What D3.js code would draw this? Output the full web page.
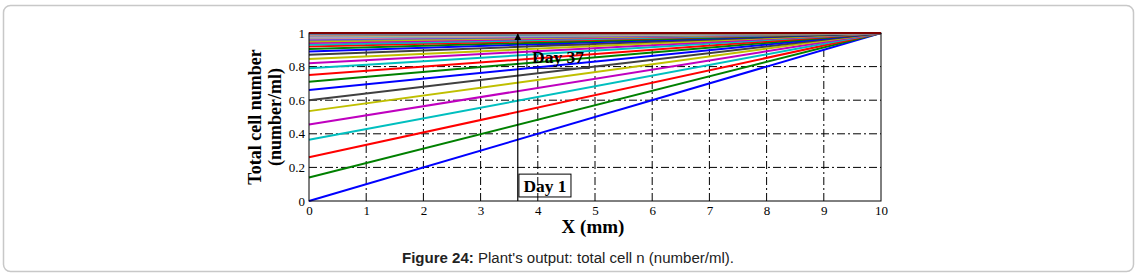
<!DOCTYPE html>
<html>
<head>
<meta charset="utf-8">
<script src="https://cdn.jsdelivr.net/npm/d3@7"></script>
<style>
  body { margin: 0; background: #fff; }
  svg { display: block; }
</style>
</head>
<body>
<svg id="chart" width="1139" height="278"></svg>
<script>
// starting value at x = 0 for each day (1..37), every line reaches 1 at x = 10
let startValues = [0, 0.14, 0.26, 0.365, 0.455, 0.535, 0.60, 0.66, 0.71, 0.75,
    0.79, 0.82, 0.845, 0.87, 0.89, 0.905, 0.92, 0.93, 0.94, 0.95,
    0.957, 0.963, 0.968, 0.973, 0.977, 0.98, 0.983, 0.986, 0.988, 0.99,
    0.992, 0.993, 0.995, 0.996, 0.997, 0.998, 1.0];
let xEnds = [0, 10];
let lineColors = ["#0000ff", "#008000", "#ff0000", "#00bfbf", "#bf00bf", "#bfbf00", "#404040",
    "#0000ff", "#008000", "#ff0000", "#00bfbf", "#bf00bf", "#bfbf00", "#404040",
    "#0000ff", "#008000", "#ff0000", "#00bfbf", "#bf00bf", "#bfbf00", "#808080",
    "#4040ff", "#ff8080", "#40c0c0", "#e080e0", "#c0c060", "#a0a0a0",
    "#2060ff", "#40a040", "#ff6060", "#80c0c0", "#d0a0d0", "#b0b000", "#606060",
    "#4080ff", "#808080", "#ff0000"];
let xTicks = [0, 1, 2, 3, 4, 5, 6, 7, 8, 9, 10];
let yTicks = [0, 0.2, 0.4, 0.6, 0.8, 1];
let yTickLabels = ["0", "0.2", "0.4", "0.6", "0.8", "1"];
let arrowX = 3.65;

let svg = d3.select("#chart");
let serif = "'Liberation Serif', 'Times New Roman', serif";

// rounded frame around the figure
svg.append("rect")
    .attr("x", 3.5).attr("y", 5.5)
    .attr("width", 1130).attr("height", 266)
    .attr("rx", 7)
    .attr("fill", "none")
    .attr("stroke", "#c8c8c8")
    .attr("stroke-width", 1.5);

let x = d3.scaleLinear().domain([0, 10]).range([309, 881]);
let y = d3.scaleLinear().domain([0, 1]).range([201, 33]);

let g = svg.append("g");

// dash-dot grid
g.selectAll(".vgrid")
    .data(xTicks.slice(1, -1))
    .enter()
    .append("line")
    .attr("x1", d => x(d)).attr("x2", d => x(d))
    .attr("y1", y(0)).attr("y2", y(1))
    .attr("stroke", "#000")
    .attr("stroke-width", 1)
    .attr("stroke-dasharray", "8,3,2,3");

g.selectAll(".hgrid")
    .data(yTicks.slice(1, -1))
    .enter()
    .append("line")
    .attr("x1", x(0)).attr("x2", x(10))
    .attr("y1", d => y(d)).attr("y2", d => y(d))
    .attr("stroke", "#000")
    .attr("stroke-width", 1)
    .attr("stroke-dasharray", "8,3,2,3");

// annotation boxes (frame first, text after the lines)
let boxes = [
    {x0: 3.81, x1: 4.9, y0: 0.93, y1: 0.79, txt: "Day 37", len: 52},
    {x0: 3.67, x1: 4.58, y0: 0.16, y1: 0.024, txt: "Day 1", len: 43}
];
g.selectAll(".box")
    .data(boxes)
    .enter()
    .append("rect")
    .attr("x", d => x(d.x0)).attr("y", d => y(d.y0))
    .attr("width", d => x(d.x1) - x(d.x0))
    .attr("height", d => y(d.y1) - y(d.y0))
    .attr("fill", "none")
    .attr("stroke", "#000")
    .attr("stroke-width", 1);

// lines, one per day
let line = d3.line()
    .x(d => x(d[0]))
    .y(d => y(d[1]));

g.selectAll(".day")
    .data(startValues)
    .enter()
    .append("path")
    .attr("class", "day")
    .attr("d", d => line([[xEnds[0], d], [xEnds[1], 1]]))
    .attr("fill", "none")
    .attr("stroke", (d, i) => lineColors[i % lineColors.length])
    .attr("stroke-width", 2);

g.selectAll(".boxtxt")
    .data(boxes)
    .enter()
    .append("text")
    .attr("x", d => (x(d.x0) + x(d.x1)) / 2)
    .attr("y", d => (y(d.y0) + y(d.y1)) / 2 + 6)
    .attr("text-anchor", "middle")
    .attr("textLength", d => d.len)
    .attr("lengthAdjust", "spacingAndGlyphs")
    .style("font-family", serif)
    .style("font-weight", "bold")
    .style("font-size", "16px")
    .text(d => d.txt);

// arrow Day 1 -> Day 37
svg.append("defs").append("marker")
    .attr("id", "head")
    .attr("viewBox", "0 0 10 10")
    .attr("refX", 9).attr("refY", 5)
    .attr("markerWidth", 6).attr("markerHeight", 8)
    .attr("orient", "auto")
    .append("path")
    .attr("d", "M0,0L10,5L0,10Z")
    .attr("fill", "#000");

g.append("line")
    .attr("x1", x(arrowX)).attr("x2", x(arrowX))
    .attr("y1", y(0)).attr("y2", y(1) + 1)
    .attr("stroke", "#000")
    .attr("stroke-width", 1.2)
    .attr("marker-end", "url(#head)");

// axes box
g.append("rect")
    .attr("x", x(0)).attr("y", y(1))
    .attr("width", x(10) - x(0))
    .attr("height", y(0) - y(1))
    .attr("fill", "none")
    .attr("stroke", "#000")
    .attr("stroke-width", 1);

let xAxis = g.append("g")
    .attr("transform", `translate(0,${y(0)})`)
    .call(d3.axisBottom(x).tickValues(xTicks).tickSize(0).tickPadding(5).tickFormat(d3.format("d")));
xAxis.select(".domain").remove();
xAxis.selectAll("text")
    .style("font-family", serif)
    .style("font-size", "13px")
    .attr("fill", "#000");

let yAxis = g.append("g")
    .attr("transform", `translate(${x(0)},0)`)
    .call(d3.axisLeft(y).tickValues(yTicks).tickSize(0).tickPadding(4)
        .tickFormat((d, i) => yTickLabels[i]));
yAxis.select(".domain").remove();
yAxis.selectAll("text")
    .style("font-family", serif)
    .style("font-size", "13px")
    .attr("fill", "#000");

// axis titles
svg.append("text")
    .attr("x", 593).attr("y", 233)
    .attr("text-anchor", "middle")
    .style("font-family", serif)
    .style("font-weight", "bold")
    .style("font-size", "19px")
    .text("X (mm)");

let yl = svg.append("text")
    .attr("transform", "translate(261,117) rotate(-90)")
    .attr("text-anchor", "middle")
    .style("font-family", serif)
    .style("font-weight", "bold")
    .style("font-size", "18px");
yl.append("tspan").attr("x", 0).attr("y", 0).text("Total cell number");
yl.append("tspan").attr("x", 0).attr("y", 20).text("(number/ml)");

// caption
let cap = svg.append("text")
    .attr("x", 568).attr("y", 263)
    .attr("text-anchor", "middle")
    .attr("textLength", 332)
    .attr("lengthAdjust", "spacingAndGlyphs")
    .style("font-family", "'Liberation Sans', Arial, sans-serif")
    .style("font-size", "14px")
    .attr("fill", "#222");
cap.append("tspan").style("font-weight", "bold").text("Figure 24:");
cap.append("tspan").text(" Plant's output: total cell n (number/ml).");
</script>
</body>
</html>
